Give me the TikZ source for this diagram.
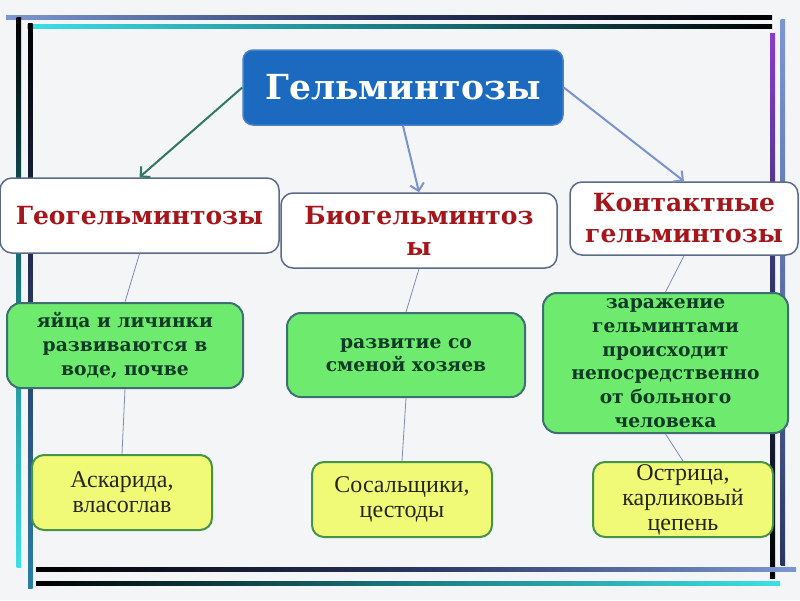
\documentclass[tikz,border=0pt]{standalone}
\usepackage{fontspec}
\setmainfont{Liberation Serif}
\newfontfamily\slab{DejaVu Serif}
\usetikzlibrary{arrows.meta}
\definecolor{bg}{HTML}{F4F5F7}
\definecolor{titleblue}{HTML}{1C6AC0}
\definecolor{titleborder}{HTML}{4A80CC}
\definecolor{catborder}{HTML}{5A6A88}
\definecolor{catred}{HTML}{A5161C}
\definecolor{descgreen}{HTML}{6EEA6E}
\definecolor{descborder}{HTML}{3E6F72}
\definecolor{desctext}{HTML}{0E3B26}
\definecolor{exyellow}{HTML}{F0FA76}
\definecolor{exborder}{HTML}{459448}
\definecolor{extext}{HTML}{262618}
\definecolor{arrgreen}{HTML}{2E7A5C}
\definecolor{arrblue}{HTML}{7B93CC}
\definecolor{linkcol}{HTML}{7D8DB0}
\definecolor{fblue}{HTML}{7B97D2}
\definecolor{fnavy}{HTML}{2A3560}
\definecolor{fcyan}{HTML}{3DE0E6}
\definecolor{fteal}{HTML}{1A7A80}
\definecolor{fsteel}{HTML}{2A80A8}
\definecolor{fpurple}{HTML}{8A3CCC}
\tikzset{
  titlebox/.style={draw=titleborder, line width=1.5pt, fill=titleblue, rounded corners=10pt,
    text=white, font=\slab\bfseries\fontsize{34.5}{40}\selectfont,
    minimum width=320pt, minimum height=75pt, inner sep=0pt},
  catbox/.style={draw=catborder, line width=1.5pt, fill=white, rounded corners=12pt,
    text=catred, align=center, inner sep=0pt, font=\slab\bfseries\fontsize{25}{31}\selectfont},
  descbox/.style={draw=descborder, line width=2pt, fill=descgreen, rounded corners=14pt,
    text=desctext, align=center, inner sep=0pt, font=\slab\bfseries\fontsize{18.7}{23.7}\selectfont},
  exbox/.style={draw=exborder, line width=2pt, fill=exyellow, rounded corners=12pt,
    text=extext, align=center, inner sep=0pt, font=\fontsize{24}{25}\selectfont},
  arr/.style={line width=2pt, -{Straight Barb[length=7pt,width=14pt]}},
  link/.style={line width=0.8pt, draw=linkcol}
}
\begin{document}
\begin{tikzpicture}[x=1pt,y=-1pt]
\useasboundingbox (0,0) rectangle (800,600);
\fill[bg] (0,0) rectangle (800,600);
% frame lines
\shade[left color=fblue, right color=black, middle color=fnavy] (6,15.5) rectangle (772,19.5);
\shade[left color=fcyan, right color=black, middle color=fteal] (27,24) rectangle (772,28.5);
\shade[top color=black, bottom color=fcyan, middle color=fteal] (16.5,17) rectangle (21,567);
\shade[top color=black, bottom color=fsteel, middle color=fnavy] (28,23) rectangle (32.5,588);
\shade[top color=fpurple, bottom color=black, middle color=fnavy] (770,33) rectangle (775,578);
\shade[top color=fblue, bottom color=fnavy, middle color=fblue!60!fnavy] (780.5,19) rectangle (785,565);
\shade[left color=black, right color=fblue, middle color=fnavy] (36,567) rectangle (796,571.5);
\shade[left color=black, right color=fcyan, middle color=fteal] (36,581) rectangle (780,585.5);
% nodes
\node[titlebox] (title) at (403,87.5) {Гельминтозы};
\node[catbox, minimum width=279pt, minimum height=75pt] (geo) at (139.5,215.5) {Геогельминтозы};
\node[catbox, minimum width=276pt, minimum height=75pt] (bio) at (419,230.5) {Биогельминтоз\\ы};
\node[catbox, minimum width=228pt, minimum height=73pt] (con) at (684,218.5) {Контактные\\гельминтозы};
\node[descbox, minimum width=236pt, minimum height=85pt] (d1) at (125,345.5) {яйца и личинки\\развиваются в\\воде, почве};
\node[descbox, minimum width=238pt, minimum height=84pt] (d2) at (406,355) {развитие со\\сменой хозяев};
\node[descbox, minimum width=245pt, minimum height=140pt] (d3) at (665.5,363) {заражение\\гельминтами\\происходит\\непосредственно\\от больного\\человека};
\node[exbox, minimum width=180pt, minimum height=75pt] (e1) at (122,492.5) {Аскарида,\\власоглав};
\node[exbox, minimum width=180pt, minimum height=75pt] (e2) at (402,499.5) {Сосальщики,\\цестоды};
\node[exbox, minimum width=180pt, minimum height=75pt] (e3) at (683,499.5) {Острица,\\карликовый\\цепень};
% connectors
\draw[arr, arrgreen] (title.west) -- (geo.north);
\draw[arr, arrblue] (title.south) -- (bio.north);
\draw[arr, arrblue] (title.east) -- (con.north);
\draw[link] (geo.south) -- (d1.north);
\draw[link] (d1.south) -- (e1.north);
\draw[link] (bio.south) -- (d2.north);
\draw[link] (d2.south) -- (e2.north);
\draw[link] (con.south) -- (d3.north);
\draw[link] (d3.south) -- (e3.north);
\end{tikzpicture}
\end{document}
